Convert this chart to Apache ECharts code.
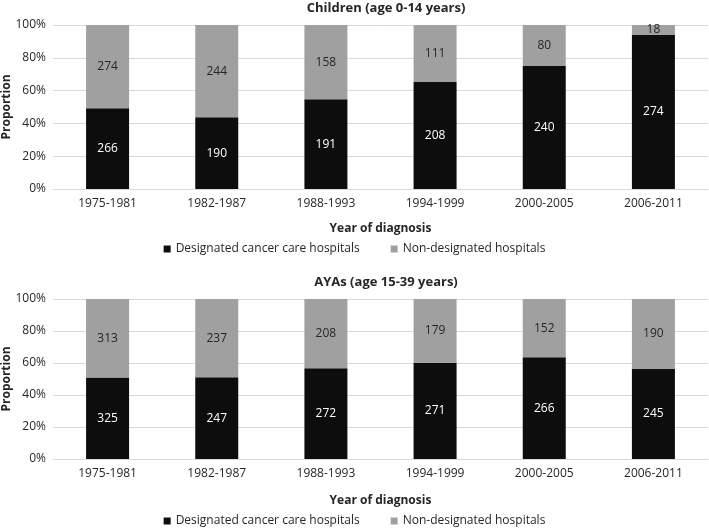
<!DOCTYPE html>
<html><head><meta charset="utf-8">
<script src="https://cdn.jsdelivr.net/npm/echarts@6/dist/echarts.min.js"></script>
<style>html,body{margin:0;padding:0;background:#fff}#c{width:709px;height:528px}</style>
</head><body><div id="c"></div>
<script>
const categories = ['1975-1981','1982-1987','1988-1993','1994-1999','2000-2005','2006-2011'];
const childDesignated = [266,190,191,208,240,274];
const childNonDesignated = [274,244,158,111,80,18];
const ayaDesignated = [325,247,272,271,266,245];
const ayaNonDesignated = [313,237,208,179,152,190];
const yTicks = ['0%','20%','40%','60%','80%','100%'];
const seriesNames = ['Designated cancer care hospitals','Non-designated hospitals'];
const titles = ['Children (age 0-14 years)','AYAs (age 15-39 years)'];

const FONT = 'Open Sans';
function pct(a, b){ return a.map((v,i)=>({value: v/(v+b[i])*100, count: v})); }

const chart = echarts.init(document.getElementById('c'));
const grids = [{left:53, width:655, top:25, height:164, containLabel:false, outerBoundsMode:'none'},
               {left:53, width:655, top:299, height:160, containLabel:false, outerBoundsMode:'none'}];
function xAxis(i){ return {type:'category', gridIndex:i, data:categories,
  axisLine:{lineStyle:{color:'#d9d9d9'}}, axisTick:{show:false},
  axisLabel:{color:'#262626', fontFamily:FONT, fontSize:12, margin:9},
  name:'Year of diagnosis', nameLocation:'middle', nameGap: i===0?34:36, nameMoveOverlap:false,
  nameTextStyle:{fontFamily:FONT, fontWeight:'bold', fontSize:12, color:'#262626'}}; }
function yAxis(i){ return {type:'value', gridIndex:i, min:0, max:100, interval:20,
  axisLabel:{formatter:(v)=>yTicks[Math.round(v/20)], color:'#262626', fontFamily:FONT, fontSize:12, margin:7},
  splitLine:{lineStyle:{color:'#d9d9d9'}}, axisLine:{show:false}, axisTick:{show:false},
  name:'Proportion', nameLocation:'middle', nameGap:40, nameRotate:90, nameMoveOverlap:false,
  nameTextStyle:{fontFamily:FONT, fontWeight:'bold', fontSize:12, color:'#262626'}}; }
function bar(i, name, data, color, labelColor){ return {type:'bar', name, stack:'s'+i, xAxisIndex:i, yAxisIndex:i,
  data, barWidth:43, itemStyle:{color}, 
  label:{show:true, position:'inside', color:labelColor, fontFamily:FONT, fontSize:12, formatter:(p)=>p.data.count}}; }

chart.setOption({
  animation:false,
  title: titles.map((t,i)=>({text:t, left:381, textAlign:'center', top: i===0? -3 : 271,
    textStyle:{fontFamily:FONT, fontWeight:'bold', fontSize:13, color:'#262626'}})),
  legend: [238, 510].map(t=>({top:t, left:'center', data:seriesNames, itemWidth:7, itemHeight:7, itemGap:31,
    icon:'rect', textStyle:{fontFamily:FONT, fontSize:12, color:'#262626'}})),
  grid: grids,
  xAxis: [xAxis(0), xAxis(1)],
  yAxis: [yAxis(0), yAxis(1)],
  series: [
    bar(0, seriesNames[0], pct(childDesignated, childNonDesignated), '#0d0d0d', '#ffffff'),
    bar(0, seriesNames[1], pct(childNonDesignated, childDesignated), '#a0a0a0', '#262626'),
    bar(1, seriesNames[0], pct(ayaDesignated, ayaNonDesignated), '#0d0d0d', '#ffffff'),
    bar(1, seriesNames[1], pct(ayaNonDesignated, ayaDesignated), '#a0a0a0', '#262626')
  ]
});
</script></body></html>
